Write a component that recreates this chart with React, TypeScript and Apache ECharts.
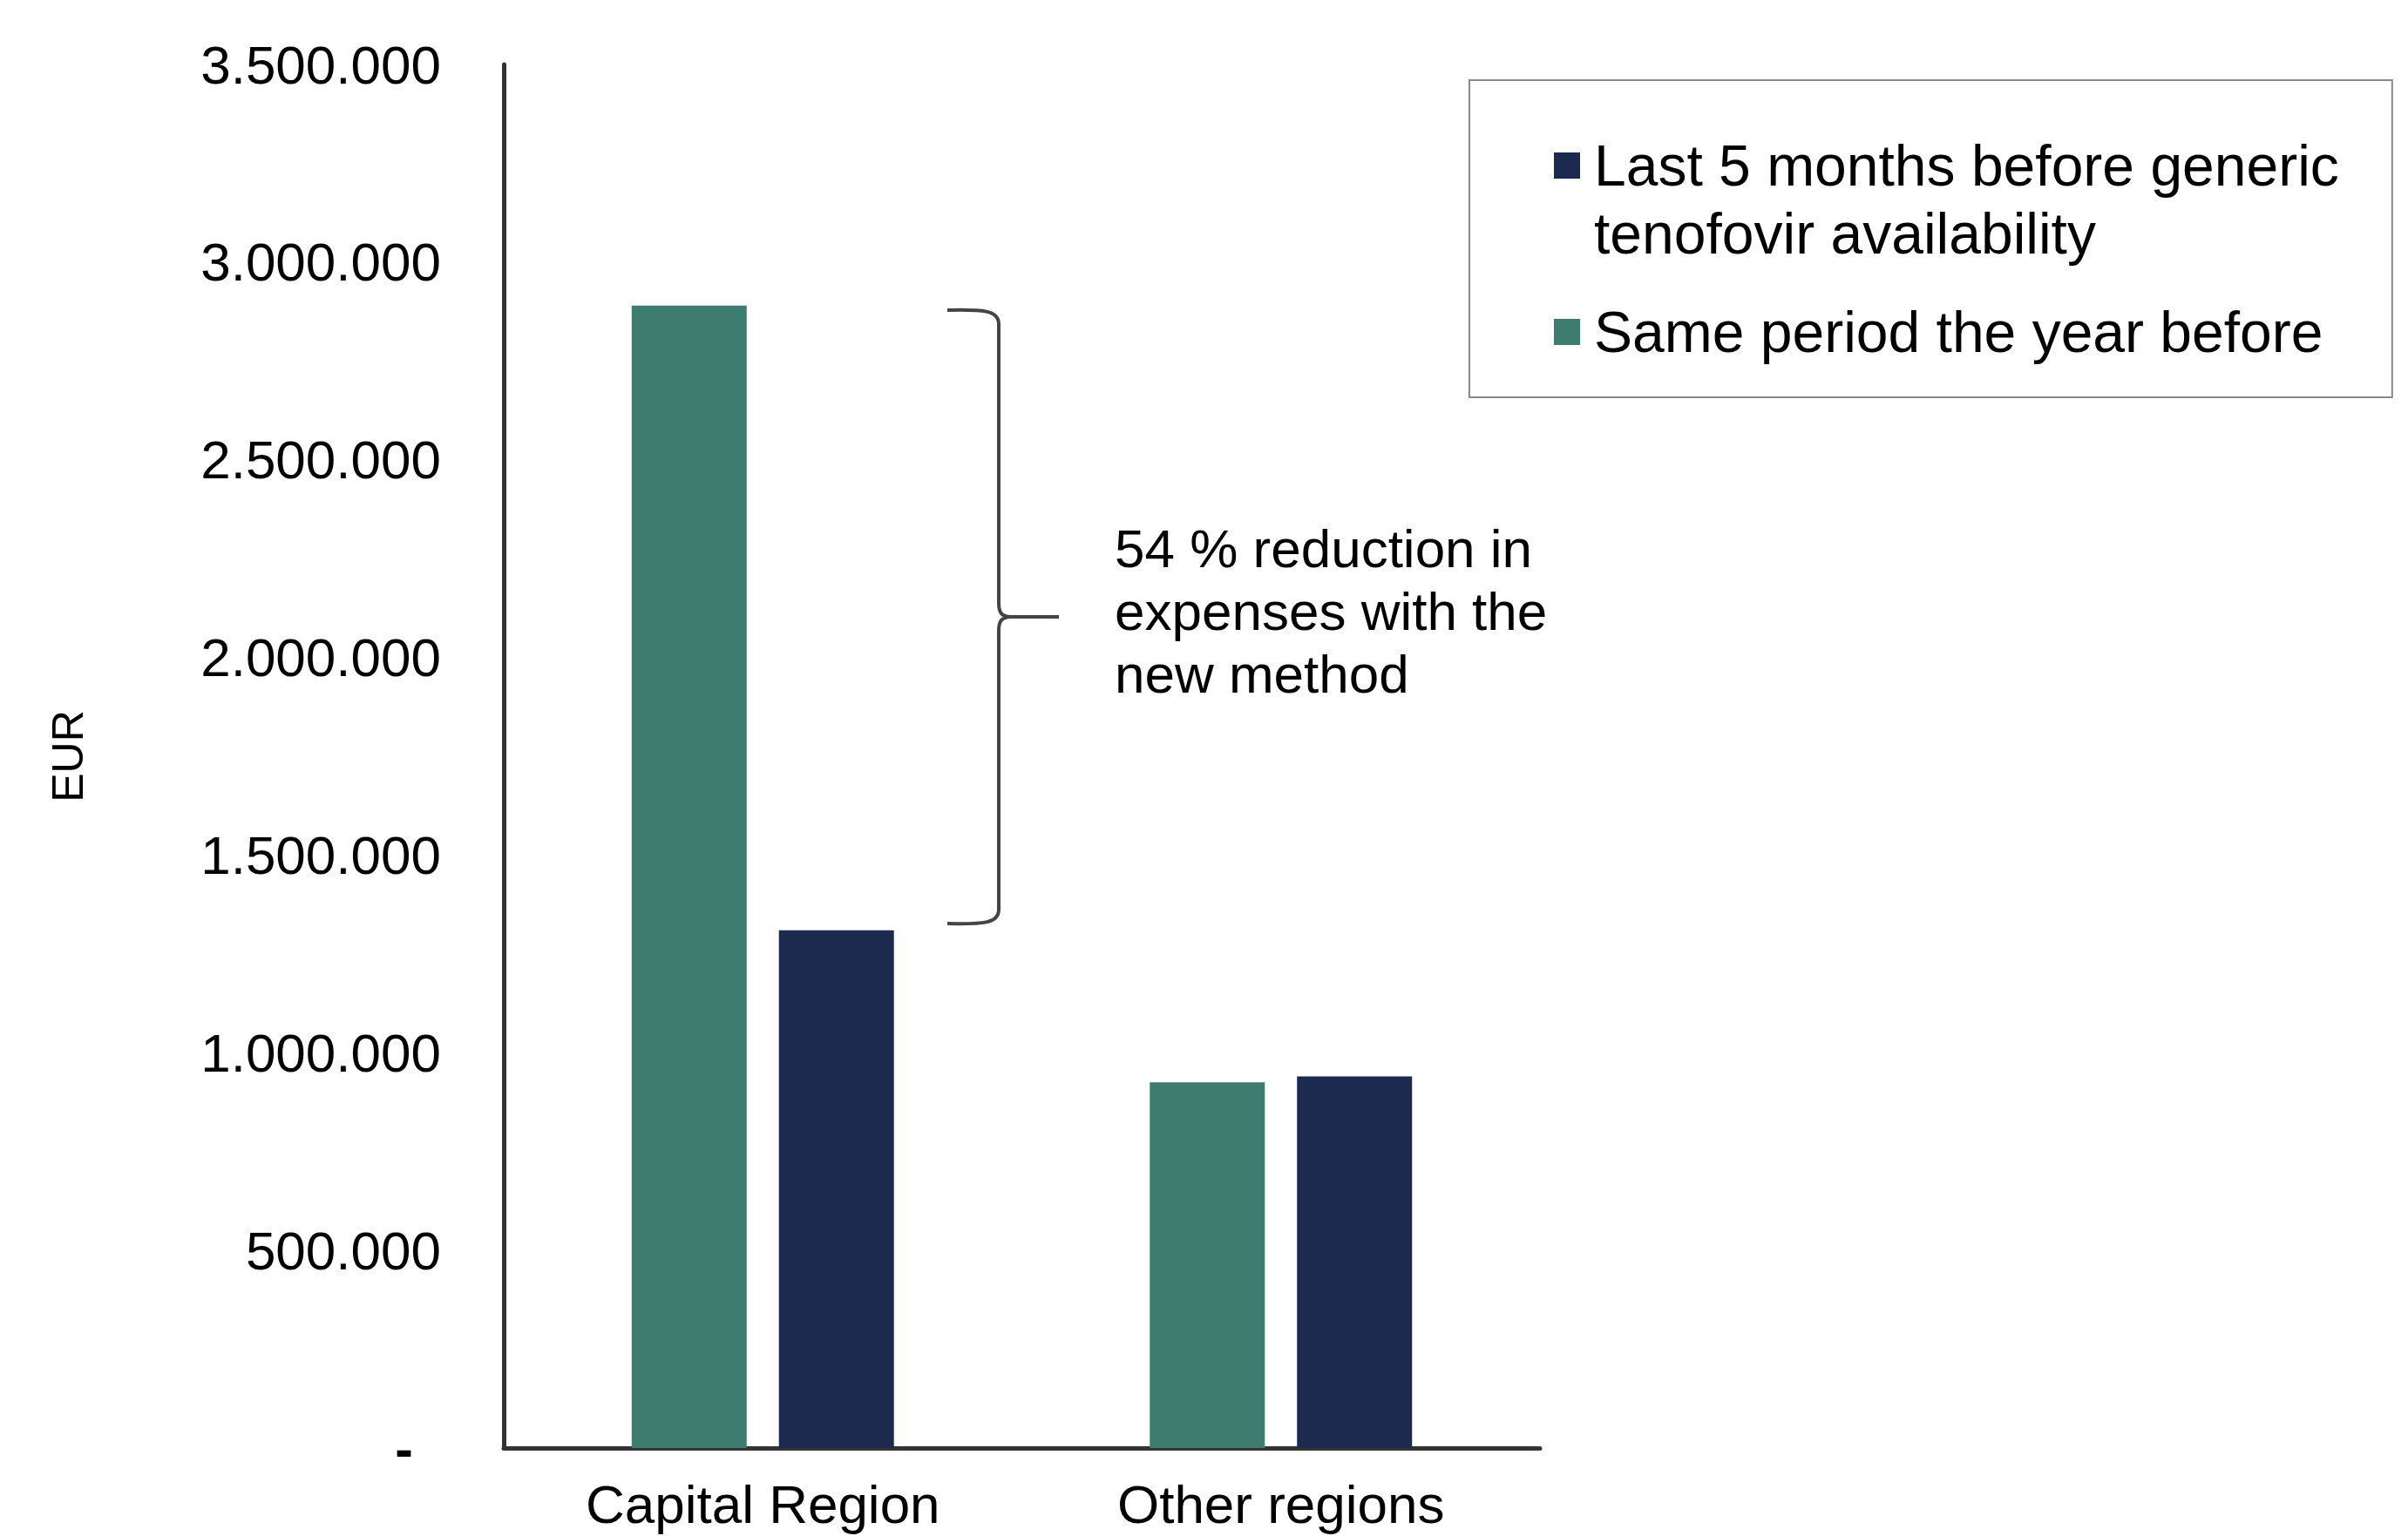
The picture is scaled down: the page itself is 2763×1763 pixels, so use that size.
import React, { useEffect, useRef } from 'react';
import * as echarts from 'echarts';

const categories = ['Capital Region', 'Other regions'];
const samePeriodValues = [2890000, 925000];
const last5MonthsValues = [1310000, 940000];
const seriesNames = ['Same period the year before', 'Last 5 months before generic tenofovir availability'];
const legendLabels: Record<string, string> = {
  'Last 5 months before generic tenofovir availability': 'Last 5 months before generic\ntenofovir availability',
  'Same period the year before': 'Same period the year before',
};
const yMin = 0;
const yMax = 3500000;
const yInterval = 500000;
const yAxisName = 'EUR';
const annotationLines = ['54 % reduction in', 'expenses with the', 'new method'];

const GREEN = '#3F7C70';
const NAVY = '#1D2A50';
const FONT = "'Liberation Sans', Arial, Helvetica, sans-serif";

const BRACE_D =
  'M1087,356 C1128,355 1146,356 1146,372 L1146,692 C1146,703 1149,707 1158,708 C1149,709 1146,713 1146,724 L1146,1044 C1146,1060 1128,1061 1087,1060 M1158,708 L1215,708';

function fmt(v: number): string {
  return String(Math.round(v)).replace(/\B(?=(\d{3})+(?!\d))/g, '.');
}

export default function App() {
  const ref = useRef<HTMLDivElement>(null);
  useEffect(() => {
    if (!ref.current) return;
    echarts.graphic.registerShape('brace', echarts.graphic.extendPath(BRACE_D, {}) as any);
    const chart = echarts.init(ref.current, null, { renderer: 'svg' });
    const icon1 = 'path://M0,0L10,0L10,10L0,10Z M13.6,36L13.67,36';
    const icon2 = 'path://M0,0L0.01,0 M0,13L10,13L10,23L0,23Z M13.6,36L13.67,36';
    chart.setOption({
      animation: false,
      backgroundColor: '#ffffff',
      textStyle: { fontFamily: FONT },
      grid: { left: 578, right: 996, top: 74, bottom: 101, containLabel: false },
      legend: {
        left: 1686,
        top: 92,
        orient: 'vertical',
        selectedMode: false,
        itemWidth: 41,
        itemHeight: 108,
        itemGap: 20,
        padding: [59, 61, 21, 97],
        borderColor: '#8a8a8a',
        borderWidth: 2,
        backgroundColor: '#ffffff',
        textStyle: { fontSize: 66, color: '#000', fontFamily: FONT, lineHeight: 78 },
        formatter: (name: string) => legendLabels[name] || name,
        data: [
          { name: seriesNames[1], icon: icon1 },
          { name: seriesNames[0], icon: icon2 },
        ],
      },
      xAxis: {
        type: 'category',
        data: categories,
        axisLine: { show: true, lineStyle: { color: '#333333', width: 5 } },
        axisTick: { show: false },
        axisLabel: { fontSize: 62, lineHeight: 64, color: '#000', margin: 32, fontFamily: FONT },
      },
      yAxis: {
        type: 'value',
        min: yMin,
        max: yMax,
        interval: yInterval,
        name: yAxisName,
        nameLocation: 'middle',
        nameRotate: 90,
        nameGap: 475,
        nameTextStyle: { fontSize: 50, color: '#000', fontFamily: FONT },
        axisLine: { show: true, lineStyle: { color: '#333333', width: 5 } },
        axisTick: { show: false },
        splitLine: { show: false },
        axisLabel: {
          fontSize: 62,
          color: '#000',
          margin: 72,
          fontFamily: FONT,
          formatter: (v: number) => (v === 0 ? '{z|-}' : fmt(v)),
          rich: { z: { fontSize: 62, color: '#000', fontWeight: 'bold', padding: [0, 32, 0, 0], fontFamily: FONT } },
        },
      },
      series: [
        {
          name: seriesNames[0],
          type: 'bar',
          data: samePeriodValues,
          barWidth: 132,
          barGap: '28%',
          itemStyle: { color: GREEN },
        },
        {
          name: seriesNames[1],
          type: 'bar',
          data: last5MonthsValues,
          barWidth: 132,
          barGap: '28%',
          itemStyle: { color: NAVY },
        },
      ],
      graphic: [
        {
          type: 'brace',
          x: 0,
          y: 0,
          silent: true,
          style: { stroke: '#444444', lineWidth: 4, fill: 'none' },
        },
        {
          type: 'text',
          x: 1279,
          y: 593,
          silent: true,
          style: {
            text: annotationLines.join('\n'),
            font: `62px ${FONT}`,
            fontSize: 62,
            fontFamily: FONT,
            lineHeight: 72,
            fill: '#000',
            verticalAlign: 'top',
            align: 'left',
          },
        },
      ],
    });
    return () => chart.dispose();
  }, []);
  return <div ref={ref} style={{ position: 'fixed', left: 0, top: 0, width: 2763, height: 1763 }} />;
}
